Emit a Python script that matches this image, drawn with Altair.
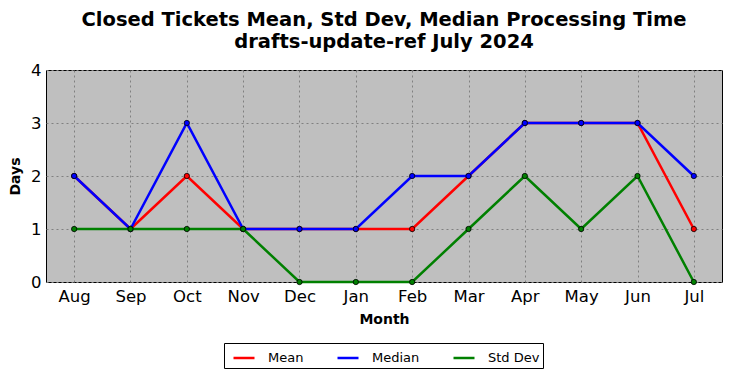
import altair as alt
import pandas as pd

months = ["Aug", "Sep", "Oct", "Nov", "Dec", "Jan", "Feb", "Mar", "Apr", "May", "Jun", "Jul"]
mean_vals = [2, 1, 2, 1, 1, 1, 1, 2, 3, 3, 3, 1]
median_vals = [2, 1, 3, 1, 1, 1, 2, 2, 3, 3, 3, 2]
std_vals = [1, 1, 1, 1, 0, 0, 0, 1, 2, 1, 2, 0]
series_names = ["Mean", "Median", "Std Dev"]
series_colors = ["#ff0000", "#0000ff", "#008000"]

rows = []
for name, vals in zip(series_names, [mean_vals, median_vals, std_vals]):
    for i, (m, v) in enumerate(zip(months, vals)):
        rows.append({"Month": m, "Days": v, "Series": name, "order": i})
df = pd.DataFrame(rows)

FONT = "DejaVu Sans"

x_enc = alt.X("Month:N", sort=months,
              scale=alt.Scale(type="point", padding=0.5),
              axis=alt.Axis(title="Month", labelAngle=0, labelFontSize=16.5, labelFont=FONT,
                            titleFont=FONT, titleFontSize=14, titleFontWeight="bold",
                            titlePadding=8, labelPadding=6, ticks=False,
                            grid=True, gridDash=[2, 3], gridColor="#808080", gridWidth=1,
                            domain=False, labelColor="black", titleColor="black"))
y_enc = alt.Y("Days:Q", scale=alt.Scale(domain=[0, 4], nice=False),
              axis=alt.Axis(title="Days", values=[0, 1, 2, 3, 4], labelFontSize=16.5, labelFont=FONT,
                            titleFont=FONT, titleFontSize=14, titleFontWeight="bold",
                            titlePadding=8, labelPadding=5, ticks=False,
                            grid=True, gridDash=[2, 3], gridColor="#808080", gridWidth=1,
                            domain=False, labelColor="black", titleColor="black"))
color_enc = alt.Color("Series:N", sort=series_names,
                      scale=alt.Scale(domain=series_names, range=series_colors),
                      legend=alt.Legend(title=None, orient="none", legendX=178, legendY=273,
                                        direction="horizontal", columns=3, symbolType="stroke",
                                        symbolSize=441, symbolStrokeWidth=2.5, symbolOffset=5,
                                        labelFont=FONT, labelExpr="datum.label + ' '",
                                        labelFontSize=13, labelColor="black", labelOffset=12,
                                        columnPadding=27, strokeColor="black", padding=3,
                                        fillColor="white"))
fill_enc = alt.Fill("Series:N", sort=series_names,
                    scale=alt.Scale(domain=series_names, range=series_colors),
                    legend=None)

layers = []
for name in series_names:
    sub = alt.Chart(df).transform_filter(alt.datum.Series == name)
    layers.append(sub.mark_line(strokeWidth=2.5).encode(
        x=x_enc, y=y_enc, color=color_enc, order="order:Q"))
    layers.append(sub.mark_point(filled=False, size=28, opacity=1, stroke="black",
                                 strokeWidth=0.8, shape="circle", fillOpacity=1).encode(
        x=x_enc, y=y_enc, fill=fill_enc))

chart = alt.layer(*layers).properties(
    width=676, height=212,
    title=alt.TitleParams(text=["Closed Tickets Mean, Std Dev, Median Processing Time",
                                "drafts-update-ref July 2024"],
                          font=FONT, fontSize=19.5, fontWeight="bold", color="black",
                          anchor="middle", offset=10, lineHeight=22),
    autosize=alt.AutoSizeParams(type="none"),
    padding={"left": 38, "top": 62, "right": 2, "bottom": 88},
).configure_view(fill="#bfbfbf", stroke="black", strokeWidth=1)

chart.save("out.html", embed_options={"renderer": "svg", "actions": False})
